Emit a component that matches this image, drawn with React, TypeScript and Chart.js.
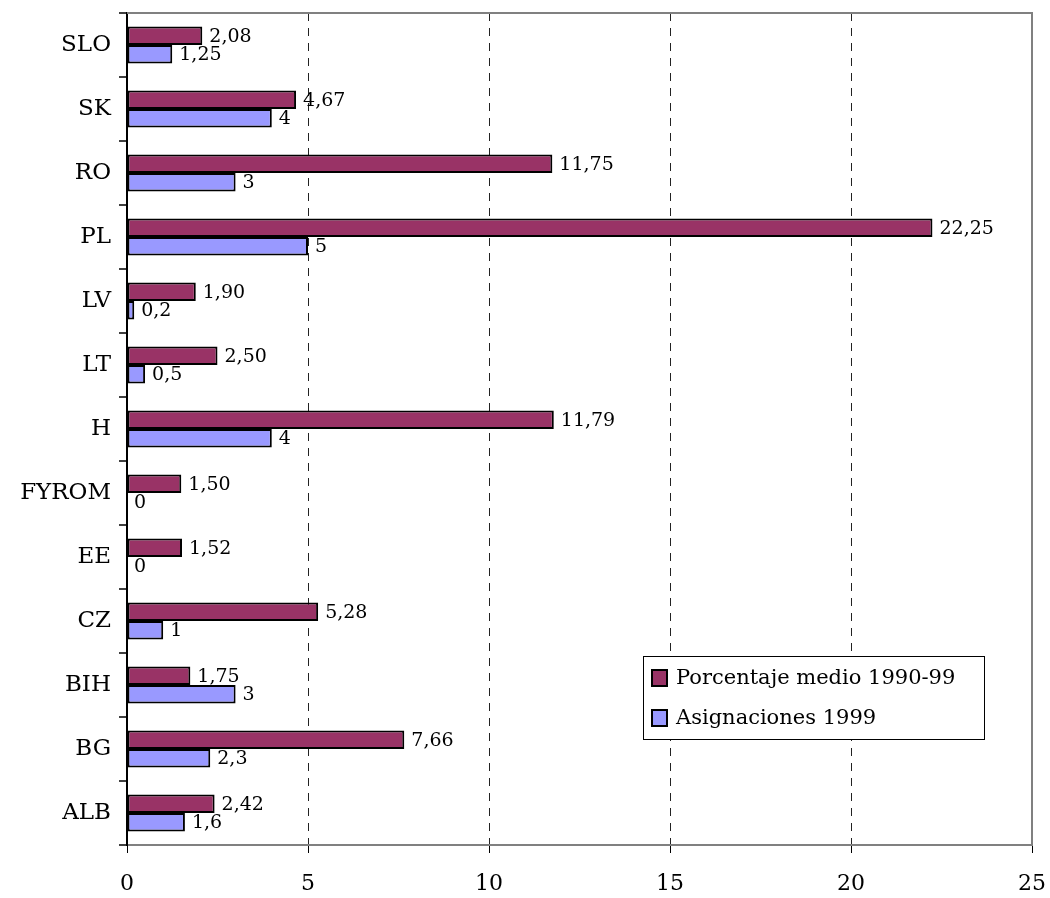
import React, { useEffect, useRef } from "react";
import { Chart, registerables } from "chart.js";

Chart.register(...registerables);

const categories = ["SLO", "SK", "RO", "PL", "LV", "LT", "H", "FYROM", "EE", "CZ", "BIH", "BG", "ALB"];
const porcentajeMedio = [2.08, 4.67, 11.75, 22.25, 1.9, 2.5, 11.79, 1.5, 1.52, 5.28, 1.75, 7.66, 2.42];
const asignaciones = [1.25, 4, 3, 5, 0.2, 0.5, 4, 0, 0, 1, 3, 2.3, 1.6];
const xTicks = [0, 5, 10, 15, 20, 25];
const seriesNames = ["Porcentaje medio 1990-99", "Asignaciones 1999"];

const RED = "#993366";
const BLUE = "#9999FF";
const FONT = "'DejaVu Serif', serif";

const fmt = (v: number, ds: number) =>
  ds === 0 ? v.toFixed(2).replace(".", ",") : String(v).replace(".", ",");

const labelsPlugin = {
  id: "valueLabels",
  afterDatasetsDraw(chart: any) {
    const ctx = chart.ctx;
    ctx.save();
    ctx.font = `19px ${FONT}`;
    ctx.fillStyle = "#000";
    ctx.textBaseline = "middle";
    ctx.textAlign = "left";
    chart.data.datasets.forEach((ds: any, di: number) => {
      const meta = chart.getDatasetMeta(di);
      meta.data.forEach((bar: any, i: number) => {
        const v = ds.data[i];
        const x = bar.x + (v === 0 ? 7 : 7);
        ctx.fillText(fmt(v, di), x, bar.y + 1);
      });
    });
    ctx.restore();
  },
};

const framePlugin = {
  id: "frame",
  beforeDatasetsDraw(chart: any) {
    const { ctx, chartArea: a } = chart;
    ctx.save();
    ctx.strokeStyle = "#808080";
    ctx.lineWidth = 2;
    ctx.beginPath();
    ctx.moveTo(a.left, a.top);
    ctx.lineTo(a.right, a.top);
    ctx.lineTo(a.right, a.bottom);
    ctx.stroke();
    ctx.restore();
  },
  afterDraw(chart: any) {
    const { ctx } = chart;
    const x = 643, y = 656, w = 341, h = 83;
    ctx.save();
    ctx.fillStyle = "#fff";
    ctx.fillRect(x, y, w, h);
    ctx.strokeStyle = "#000";
    ctx.lineWidth = 1;
    ctx.strokeRect(x + 0.5, y + 0.5, w, h);
    const colors = [RED, BLUE];
    const cy = [678, 718];
    ctx.font = `21px ${FONT}`;
    ctx.textBaseline = "middle";
    ctx.textAlign = "left";
    seriesNames.forEach((n, i) => {
      ctx.fillStyle = colors[i];
      ctx.fillRect(652, cy[i] - 8, 15, 16);
      ctx.strokeStyle = "#000";
      ctx.lineWidth = 2;
      ctx.strokeRect(652, cy[i] - 8, 15, 16);
      ctx.fillStyle = "#000";
      ctx.fillText(n, 676, cy[i] + 1);
    });
    ctx.restore();
  },
};

export default function App() {
  const ref = useRef<HTMLCanvasElement>(null);
  useEffect(() => {
    if (!ref.current) return;
    const chart = new Chart(ref.current, {
      type: "bar",
      data: {
        labels: categories,
        datasets: [
          {
            label: seriesNames[0],
            data: porcentajeMedio,
            backgroundColor: RED,
            borderColor: "#000",
            borderWidth: 2,
            borderSkipped: false,
            barPercentage: 1,
            categoryPercentage: 0.58,
          },
          {
            label: seriesNames[1],
            data: asignaciones,
            backgroundColor: BLUE,
            borderColor: "#000",
            borderWidth: 2,
            borderSkipped: false,
            barPercentage: 1,
            categoryPercentage: 0.58,
          },
        ],
      },
      options: {
        indexAxis: "y",
        animation: false,
        responsive: true,
        maintainAspectRatio: false,
        layout: { padding: { top: 13, right: 18, left: 0, bottom: 0 } },
        plugins: { legend: { display: false }, tooltip: { enabled: false } },
        scales: {
          x: {
            min: 0,
            max: 25,
            afterBuildTicks: (s: any) => {
              s.ticks = xTicks.map((v) => ({ value: v }));
            },
            afterFit: (s: any) => {
              s.height = 898 - 845;
              s.paddingLeft = 0;
              s.paddingRight = 0;
            },
            ticks: {
              font: { family: FONT, size: 22 },
              color: "#000",
              padding: 18,
              maxRotation: 0,
            },
            grid: {
              color: (c: any) => (c.tick && (c.tick.value === 0 || c.tick.value === 25) ? "rgba(0,0,0,0)" : "#222"),
              lineWidth: 1,
              tickColor: "#000",
              tickLength: 8,
              tickBorderDash: [],
            },
            border: { display: true, color: "#808080", width: 2, dash: [8, 7] } as any,
          },
          y: {
            afterFit: (s: any) => {
              s.width = 127;
              s.paddingTop = 0;
              s.paddingBottom = 0;
            },
            ticks: {
              font: { family: FONT, size: 23 },
              color: "#000",
              padding: 8,
            },
            grid: {
              offset: true,
              drawOnChartArea: false,
              tickColor: "#404040",
              tickLength: 8,
              lineWidth: 2,
            },
            border: { display: true, color: "#000", width: 2 },
          },
        },
      },
      plugins: [labelsPlugin, framePlugin],
    });
    return () => chart.destroy();
  }, []);
  return (
    <div style={{ position: "absolute", left: 0, top: 0, width: 1050, height: 898 }}>
      <canvas ref={ref} />
    </div>
  );
}
